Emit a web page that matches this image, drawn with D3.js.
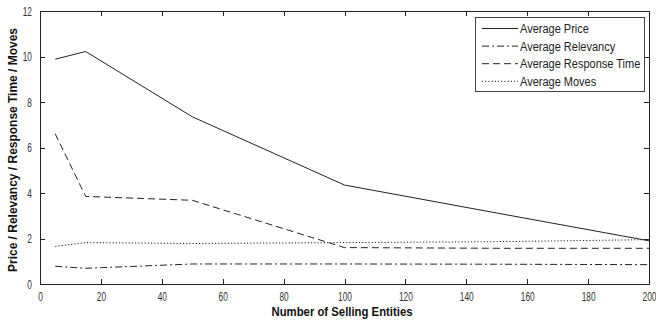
<!DOCTYPE html>
<html><head><meta charset="utf-8">
<script src="https://cdn.jsdelivr.net/npm/d3@7"></script>
<style>body{margin:0;background:#fff}svg{display:block}text{font-family:"Liberation Sans",Arial,sans-serif}</style>
</head><body>
<svg id="c" width="656" height="322"></svg>
<script>
const entities = [5, 15, 50, 100, 150, 200];
const avgPrice = [9.88, 10.22, 7.35, 4.35, 3.12, 1.9];
const avgRelevancy = [0.78, 0.69, 0.88, 0.88, 0.87, 0.85];
const avgResponse = [6.6, 3.85, 3.68, 1.6, 1.57, 1.57];
const avgMoves = [1.65, 1.82, 1.78, 1.82, 1.86, 1.95];
const seriesNames = ["Average Price", "Average Relevancy", "Average Response Time", "Average Moves"];
const xTicks = [0, 20, 40, 60, 80, 100, 120, 140, 160, 180, 200];
const yTicks = [0, 2, 4, 6, 8, 10, 12];

const dashes = [null, "7,3,2,3", "7,4", "1.2,2"];
const seriesVals = [avgPrice, avgRelevancy, avgResponse, avgMoves];
const FF = "\"Liberation Sans\",Arial,sans-serif";

function condense(sel, f) {
  sel.each(function () {
    const w = this.getComputedTextLength();
    d3.select(this).attr("textLength", w * f).attr("lengthAdjust", "spacingAndGlyphs");
  });
}
function fitTo(sel, w) {
  sel.attr("textLength", w).attr("lengthAdjust", "spacingAndGlyphs");
}

const svg = d3.select("#c");
const L = 40, R = 649, T = 11, B = 284;
const x = d3.scaleLinear().domain([0, 200]).range([L, R]);
const y = d3.scaleLinear().domain([0, 12]).range([B, T]);
const ink = "#222";

svg.append("rect").attr("x", L).attr("y", T).attr("width", R - L).attr("height", B - T)
  .attr("fill", "none").attr("stroke", ink).attr("stroke-width", 1).attr("shape-rendering", "crispEdges");

const tk = 5;
const gx = svg.append("g").attr("transform", `translate(0,${B})`)
  .call(d3.axisBottom(x).tickValues(xTicks).tickSizeInner(-tk).tickSizeOuter(0).tickPadding(8));
const gxt = svg.append("g").attr("transform", `translate(0,${T})`)
  .call(d3.axisTop(x).tickValues(xTicks).tickSizeInner(-tk).tickSizeOuter(0).tickFormat(""));
const gy = svg.append("g").attr("transform", `translate(${L},0)`)
  .call(d3.axisLeft(y).tickValues(yTicks).tickSizeInner(-tk).tickSizeOuter(0).tickPadding(8));
const gyr = svg.append("g").attr("transform", `translate(${R},0)`)
  .call(d3.axisRight(y).tickValues(yTicks).tickSizeInner(-tk).tickSizeOuter(0).tickFormat(""));
[gx, gxt, gy, gyr].forEach(g => {
  g.select(".domain").remove();
  g.selectAll("line").attr("stroke", ink).attr("shape-rendering", "crispEdges");
  g.selectAll("text").attr("fill", "#333").style("font-size", "13px").style("font-family", FF);
});
condense(gx.selectAll("text"), 0.64);
condense(gy.selectAll("text"), 0.64);

const line = d3.line().x((d, i) => x(entities[i])).y(d => y(d));
seriesVals.forEach((vals, k) => {
  svg.append("path").datum(vals).attr("d", line).attr("fill", "none")
    .attr("stroke", ink).attr("stroke-width", 1)
    .attr("stroke-dasharray", dashes[k]);
});

const xt = svg.append("text").attr("x", 342).attr("y", 316).attr("text-anchor", "middle")
  .style("font-size", "13.5px").style("font-weight", "bold").style("font-family", FF).attr("fill", "#111").text("Number of Selling Entities");
fitTo(xt, 141);
const yt = svg.append("text").attr("transform", `translate(17,150) rotate(-90)`).attr("text-anchor", "middle")
  .style("font-size", "13.5px").style("font-weight", "bold").style("font-family", FF).attr("fill", "#111").text("Price / Relevancy / Response Time / Moves");
fitTo(yt, 244);

const lg = svg.append("g");
lg.append("rect").attr("x", 475.5).attr("y", 17.5).attr("width", 169).attr("height", 74)
  .attr("fill", "#fff").attr("stroke", "#444").attr("stroke-width", 1);
seriesNames.forEach((name, k) => {
  const yy = 28.5 + k * 17.6;
  lg.append("line").attr("x1", 482).attr("x2", 518).attr("y1", yy).attr("y2", yy)
    .attr("stroke", ink).attr("stroke-width", 1).attr("stroke-dasharray", dashes[k]);
  const t = lg.append("text").attr("x", 520).attr("y", yy + 4.6).style("font-size", "12.5px").style("font-family", FF).attr("fill", "#222").text(name);
  condense(t, 0.88);
});
</script>
</body></html>
